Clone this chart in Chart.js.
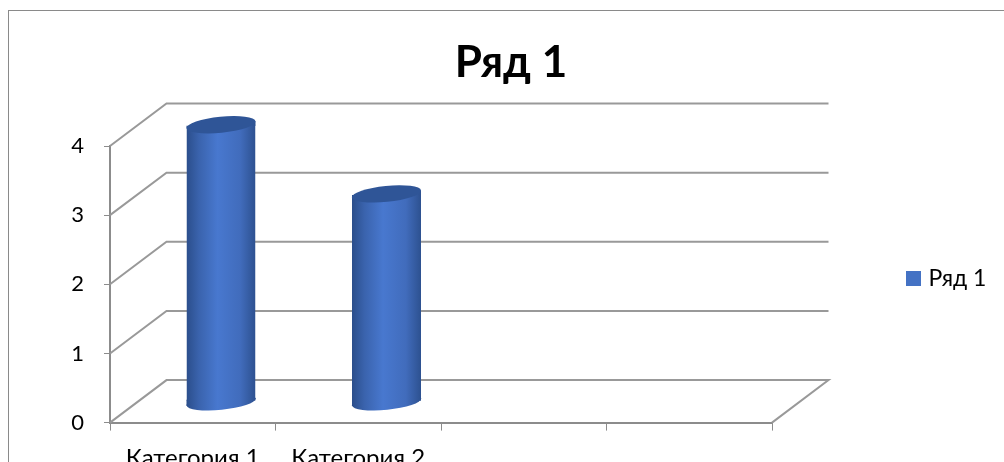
<!DOCTYPE html>
<html><head><meta charset="utf-8">
<style>
html,body{margin:0;padding:0;background:#fff;overflow:hidden}
#wrap{position:relative;width:1004px;height:462px}
#frame{position:absolute;left:8px;top:10px;right:-2px;bottom:-2px;border:1px solid #8a8a8a;box-sizing:border-box}
canvas{position:absolute;left:0;top:0}
</style>
<script src="https://cdn.jsdelivr.net/npm/chart.js@4/dist/chart.umd.js"></script>
</head><body>
<div id="wrap"><div id="frame"></div><canvas id="c" width="1004" height="462"></canvas></div>
<script>
const chartTitle = 'Ряд 1';
const seriesName = 'Ряд 1';
const categories = ['Категория 1', 'Категория 2', '', ''];
const seriesValues = [4, 3, null, null];
const yTicks = [0, 1, 2, 3, 4];

const FONT = 'Lato';
const DEPTH_X = 56.5, DEPTH_Y = 42.5, GRID = '#999999', AXIS = '#8c8c8c';
const BAR_PCT = 0.417, TILT = 3.5;

function barGradient(c, cx, half) {
  const g = c.createLinearGradient(cx - half, 0, cx + half, 0);
  g.addColorStop(0, '#2b4e8b');
  g.addColorStop(0.18, '#3a63ad');
  g.addColorStop(0.45, '#4878cf');
  g.addColorStop(0.78, '#416cbc');
  g.addColorStop(1, '#2d5190');
  return g;
}

function ellipse(c, x, y, rx, ry, fill) {
  c.save();
  c.beginPath();
  c.ellipse(x, y, rx, ry, -5.8 * Math.PI / 180, 0, Math.PI * 2);
  c.fillStyle = fill;
  c.fill();
  c.restore();
}

// Wedge between the flat end of a bar and the tilted chord of its end cap.
function wedge(c, cx, half, yc, yFlat, fill) {
  c.beginPath();
  c.moveTo(cx - half, yc + TILT);
  c.lineTo(cx + half, yc - TILT);
  c.lineTo(cx + half, yFlat);
  c.lineTo(cx - half, yFlat);
  c.closePath();
  c.fillStyle = fill;
  c.fill();
}

const walls = {
  id: 'walls',
  afterLayout(chart) {
    const lg = chart.legend;
    lg.left = 900; lg.right = 1004; lg.top = 257; lg.bottom = 300;
    lg.width = lg.right - lg.left; lg.height = lg.bottom - lg.top;
    chart.titleBlock.left = 18;
    chart.titleBlock.right = 1004;
    chart.titleBlock.width = 986;
  },
  beforeDatasetsDraw(chart) {
    const c = chart.ctx, {y} = chart.scales, a = chart.chartArea;
    c.save();
    c.strokeStyle = GRID;
    c.lineWidth = 2;
    for (const t of yTicks) {
      const py = y.getPixelForValue(t);
      c.beginPath();
      c.moveTo(a.left, py);
      c.lineTo(a.left + DEPTH_X, py - DEPTH_Y);
      c.lineTo(a.right + DEPTH_X, py - DEPTH_Y);
      if (t === 0) c.lineTo(a.right, py);
      c.stroke();
    }
    c.restore();
  },
  beforeDatasetDraw(chart) {
    const c = chart.ctx;
    const els = chart.getDatasetMeta(0).data;
    els.forEach((el, i) => {
      if (seriesValues[i] == null) return;
      const half = el.width / 2, cx = el.x + DEPTH_X / 2, yb = el.base - DEPTH_Y / 2;
      const g = barGradient(c, cx, half);
      ellipse(c, cx, yb + 1, half + 0.2, 8, g);
      wedge(c, cx, half, yb + 1, yb - 1, g);
    });
    c.save();
    // Trim the bars' flat tops to the slant of the cap.
    c.beginPath();
    els.forEach((el, i) => {
      if (seriesValues[i] == null) return;
      const half = el.width / 2, cx = el.x + DEPTH_X / 2, yt = el.y - DEPTH_Y / 2;
      c.moveTo(cx - half, yt + TILT);
      c.lineTo(cx + half, yt - TILT);
      c.lineTo(cx + half, el.base);
      c.lineTo(cx - half, el.base);
      c.closePath();
    });
    c.clip();
    c.translate(DEPTH_X / 2, -DEPTH_Y / 2);
  },
  afterDatasetDraw(chart) {
    const c = chart.ctx;
    c.restore();
    chart.getDatasetMeta(0).data.forEach((el, i) => {
      if (seriesValues[i] == null) return;
      const half = el.width / 2, cx = el.x + DEPTH_X / 2, yt = el.y - DEPTH_Y / 2;
      wedge(c, cx, half, yt, yt + 1, barGradient(c, cx, half));
      ellipse(c, cx, yt, half + 0.2, 8, '#2f5597');
    });
  }
};

new Chart(document.getElementById('c'), {
  type: 'bar',
  data: {
    labels: categories,
    datasets: [{
      label: seriesName,
      data: seriesValues,
      clip: false,
      borderWidth: 0,
      categoryPercentage: 1,
      barPercentage: BAR_PCT,
      backgroundColor(ctx) {
        const s = ctx.chart.scales.x;
        if (!s || ctx.dataIndex === undefined) return '#4472c4';
        const half = s.width / categories.length * BAR_PCT / 2;
        return barGradient(ctx.chart.ctx, s.getPixelForValue(ctx.dataIndex), half);
      }
    }]
  },
  options: {
    responsive: false,
    animation: false,
    devicePixelRatio: 1,
    layout: { padding: { left: 0, right: 232, top: 0, bottom: 0 } },
    plugins: {
      tooltip: { enabled: false },
      title: {
        display: true,
        text: chartTitle,
        color: '#000',
        font: { family: FONT, size: 44, weight: 'bold', lineHeight: 1.2 },
        padding: { top: 36, bottom: 57.2 }
      },
      legend: {
        position: 'chartArea',
        align: 'start',
        labels: {
          color: '#000',
          font: { family: FONT, size: 23 },
          boxWidth: 7,
          boxHeight: 7,
          padding: 10,
          generateLabels: () => [{
            text: seriesName, fillStyle: '#4472c4', strokeStyle: '#4472c4',
            lineWidth: 8, datasetIndex: 0, hidden: false
          }]
        }
      }
    },
    scales: {
      x: {
        afterFit(s) { s.height = 39.4; },
        border: { color: AXIS, width: 2 },
        grid: { drawOnChartArea: false, color: AXIS, tickLength: 8, lineWidth: 1 },
        ticks: { color: '#000', font: { family: FONT, size: 24 }, maxRotation: 0, autoSkip: false, padding: 13 }
      },
      y: {
        min: 0,
        max: 4,
        afterFit(s) { s.width = 110; },
        border: { color: AXIS, width: 2 },
        grid: { drawOnChartArea: false, color: AXIS, tickLength: 6, lineWidth: 1 },
        ticks: { color: '#000', font: { family: FONT, size: 22 }, stepSize: 1, padding: 20 }
      }
    }
  },
  plugins: [walls]
});
</script>
</body></html>
